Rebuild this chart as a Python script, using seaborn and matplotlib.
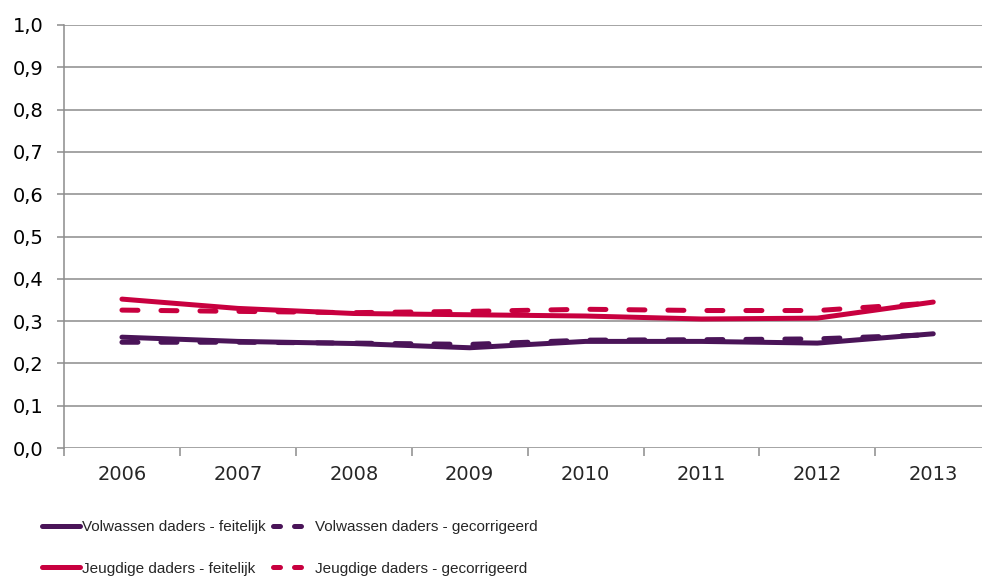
import matplotlib
matplotlib.use("Agg")
import matplotlib.pyplot as plt
import seaborn as sns
import pandas as pd
from matplotlib.lines import Line2D
from matplotlib.ticker import FixedLocator, FuncFormatter

years = ["2006", "2007", "2008", "2009", "2010", "2011", "2012", "2013"]

volwassen_feitelijk = [0.262, 0.252, 0.247, 0.237, 0.252, 0.252, 0.248, 0.270]
volwassen_gecorrigeerd = [0.250, 0.250, 0.248, 0.245, 0.255, 0.256, 0.258, 0.268]
jeugdig_feitelijk = [0.352, 0.330, 0.318, 0.315, 0.312, 0.305, 0.307, 0.345]
jeugdig_gecorrigeerd = [0.326, 0.323, 0.320, 0.323, 0.328, 0.325, 0.325, 0.343]

purple = "#4a1458"
red = "#c8003f"
series = [
    ("Volwassen daders - feitelijk", volwassen_feitelijk, purple, False),
    ("Volwassen daders - gecorrigeerd", volwassen_gecorrigeerd, purple, True),
    ("Jeugdige daders - feitelijk", jeugdig_feitelijk, red, False),
    ("Jeugdige daders - gecorrigeerd", jeugdig_gecorrigeerd, red, True),
]

sns.set_style("white")
plt.rcParams["font.family"] = ["DejaVu Sans"]

W, H = 982, 578
fig = plt.figure(figsize=(W / 100, H / 100), dpi=100)
ax = fig.add_axes([64 / W, (H - 448) / H, (W - 64) / W, 423 / H])

grid_col = "#8c8c8c"
for lbl, vals, col, dashed in series:
    df = pd.DataFrame({"x": range(len(years)), "y": vals})
    sns.lineplot(data=df, x="x", y="y", ax=ax, color=col, linewidth=3.6,
                 label=lbl, legend=False)
    line = ax.lines[-1]
    line.set_solid_capstyle("round")
    line.set_dash_capstyle("round")
    if dashed:
        line.set_dashes([3.2, 4.6])

step = 115.9
ax.set_xlim(-0.5, -0.5 + (W - 64) / step)
ax.set_ylim(0, 1.0)
ax.set_yticks([i / 10 for i in range(11)])
ax.yaxis.set_major_formatter(FuncFormatter(lambda v, p: f"{v:.1f}".replace(".", ",")))
ax.set_xticks(range(len(years)))
ax.set_xticklabels(years)
ax.xaxis.set_minor_locator(FixedLocator([i + 0.5 for i in range(-1, 7)]))
ax.set_xlabel("")
ax.set_ylabel("")

ax.grid(axis="y", color=grid_col, linewidth=1.1)
ax.set_axisbelow(True)
for s in ["top", "right", "bottom"]:
    ax.spines[s].set_visible(False)
ax.spines["left"].set_color(grid_col)
ax.spines["left"].set_linewidth(1.1)

ax.tick_params(axis="y", which="major", length=5, width=1.1, color=grid_col,
               direction="out", left=True, pad=10, labelsize=14, labelcolor="#000000")
ax.tick_params(axis="x", which="major", length=0, pad=12, labelsize=14)
ax.tick_params(axis="x", which="minor", length=6, width=1.1, color=grid_col,
               direction="out", bottom=True)

# legend: two separate columns so the positions can be set directly
leg_font = {"family": ["Liberation Sans", "DejaVu Sans"], "size": 11}


def handle(col, dashed):
    h = Line2D([], [], color=col, linewidth=3.6, solid_capstyle="round",
               dash_capstyle="round")
    if dashed:
        h.set_dashes([1.4, 2.8])
    return h


top = 1 - 520 / H
leg1 = fig.legend([handle(purple, False), handle(red, False)],
                  [series[0][0], series[2][0]],
                  loc="upper left", bbox_to_anchor=(42 / W, top),
                  frameon=False, prop=leg_font, handlelength=2.5,
                  handletextpad=0.15, labelspacing=1.8, borderpad=0,
                  borderaxespad=0)
leg2 = fig.legend([handle(purple, True), handle(red, True)],
                  [series[1][0], series[3][0]],
                  loc="upper left", bbox_to_anchor=(273 / W, top),
                  frameon=False, prop=leg_font, handlelength=2.1,
                  handletextpad=0.65, labelspacing=1.8, borderpad=0,
                  borderaxespad=0)

fig.savefig("out.png", dpi=100)
